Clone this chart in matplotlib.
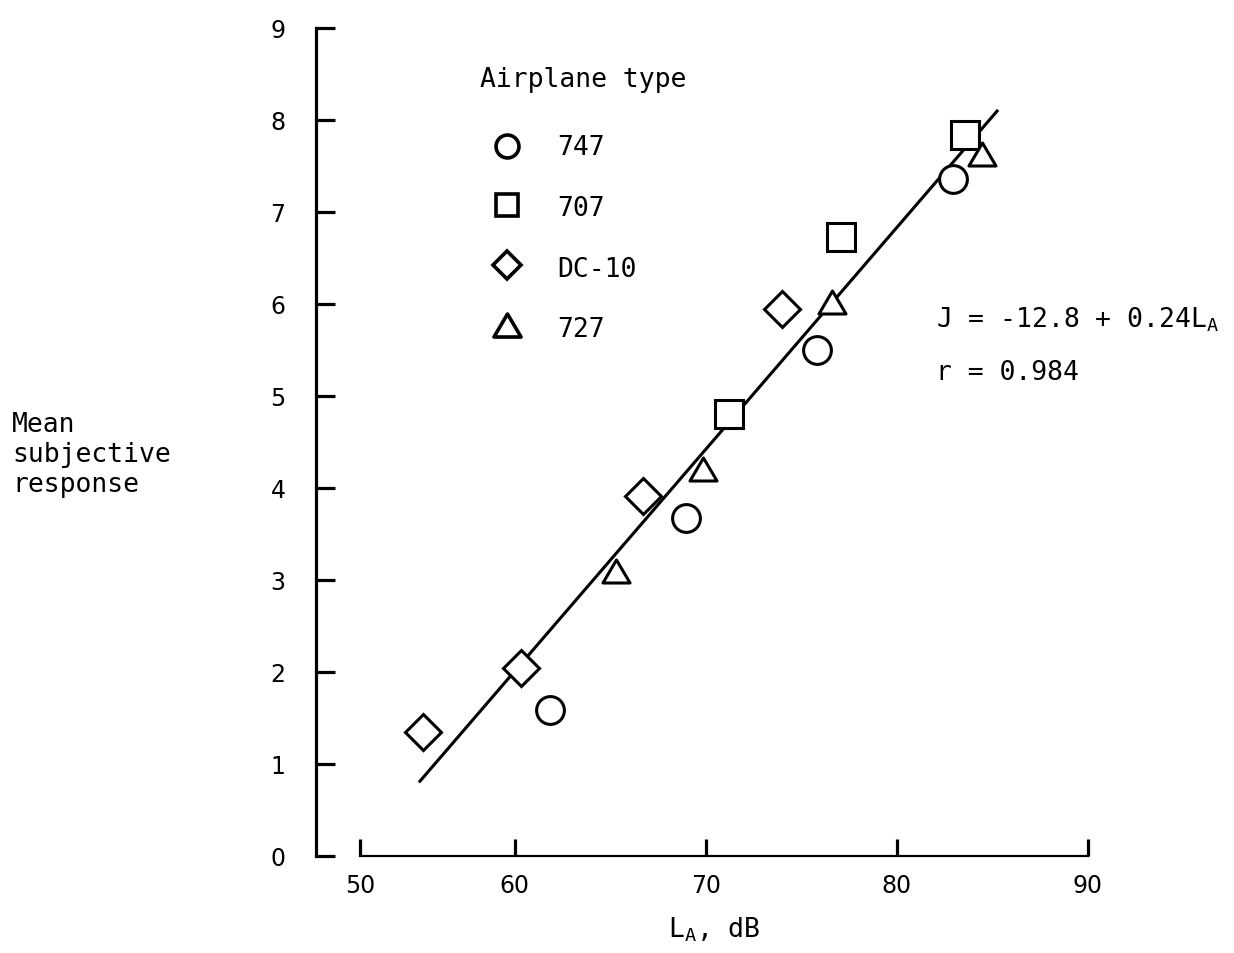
import numpy as np
import matplotlib
matplotlib.use("Agg")
import matplotlib.pyplot as plt
from matplotlib.path import Path
from matplotlib.lines import Line2D

# ---------------- data ----------------
x_747 = [61.83, 68.99, 75.84, 82.95]
y_747 = [1.59, 3.67, 5.50, 7.36]
x_707 = [71.24, 77.09, 83.58]
y_707 = [4.80, 6.73, 7.84]
x_dc10 = [54.06, 60.31, 66.74, 74.01]
y_dc10 = [1.35, 2.04, 3.91, 5.95]
x_727 = [65.28, 69.88, 76.62, 84.46]
y_727 = [3.10, 4.21, 6.02, 7.63]
fit_x = [53.81, 85.30]
fit_y = [0.80, 8.11]
x_ticks = [50, 60, 70, 80, 90]
y_ticks = [0, 1, 2, 3, 4, 5, 6, 7, 8, 9]
legend_labels = ["747", "707", "DC-10", "727"]
legend_title = "Airplane type"
equation = "J = -12.8 + 0.24L$_A$"
corr = "r = 0.984"
# --------------------------------------

plt.rcParams["mathtext.default"] = "regular"
MONO = "DejaVu Sans Mono"
FS = 19

W, H = 1234, 954
fig = plt.figure(figsize=(W / 100, H / 100), dpi=100)
ax = fig.add_axes([316 / W, (H - 857) / H, 791 / W, 828 / H])

# axis drawn with the 50-60 interval shorter than the others (as in the original)
K = 0.81
def fwd(x):
    x = np.asarray(x, dtype=float)
    return np.where(x < 60, 60 - (60 - x) * K, x)
def inv(u):
    u = np.asarray(u, dtype=float)
    return np.where(u < 60, 60 - (60 - u) / K, u)

ax.set_xscale("function", functions=(fwd, inv))
ax.set_xlim(47.16, 91)
ax.set_ylim(0, 9)

tri = Path([(0, 0.85), (-1, -0.85), (1, -0.85), (0, 0.85)],
           [Path.MOVETO, Path.LINETO, Path.LINETO, Path.CLOSEPOLY])

ax.plot(fit_x, fit_y, color="black", lw=2.2, zorder=2, solid_capstyle="butt")

common = dict(ls="none", mfc="white", mec="black", mew=2.2, zorder=3, clip_on=False)
ax.plot(x_747, y_747, marker="o", ms=20, **common)
ax.plot(x_707, y_707, marker="s", ms=19.5, **common)
ax.plot(x_dc10, y_dc10, marker="D", ms=18.5, **common)
ax.plot(x_727, y_727, marker=tri, ms=19.5, **common)

# spines and ticks
for s in ("top", "right"):
    ax.spines[s].set_visible(False)
ax.spines["left"].set_linewidth(2.3)
ax.spines["left"].set_bounds(0, 9)
ax.spines["bottom"].set_linewidth(1.6)
ax.spines["bottom"].set_bounds(50, 90)

ax.set_xticks(x_ticks)
ax.set_xticklabels([str(t) for t in x_ticks])
ax.xaxis.set_minor_locator(matplotlib.ticker.NullLocator())
ax.set_yticks(y_ticks)
ax.set_yticklabels([str(t) for t in y_ticks])
ax.tick_params(axis="y", direction="in", length=14, width=2.3, pad=22,
               labelsize=17)
ax.tick_params(axis="x", direction="in", length=12, width=2.3, pad=12,
               labelsize=17)

def fx(px):
    return px / W
def fy(py):
    return 1 - py / H

# legend (hand placed)
fig.text(fx(480), fy(87), legend_title, family=MONO, fontsize=FS, va="baseline")
leg_markers = ["o", "s", "D", tri]
leg_ms = [16.5, 15.5, 14.5, 19.5]
leg_my = [147, 206, 266, 326]
leg_ty = [155, 216, 277, 337]
for lab, mk, ms, my, ty in zip(legend_labels, leg_markers, leg_ms, leg_my, leg_ty):
    fig.add_artist(Line2D([fx(507)], [fy(my)], transform=fig.transFigure,
                          marker=mk, ms=ms, mfc="white", mec="black", mew=2.6,
                          ls="none"))
    fig.text(fx(557), fy(ty), lab, family=MONO, fontsize=FS, va="baseline")

# equation
fig.text(fx(936), fy(327), equation, family=MONO, fontsize=FS, va="baseline")
fig.text(fx(936), fy(380), corr, family=MONO, fontsize=FS, va="baseline")

# axis labels
fig.text(fx(12), fy(455), "Mean\nsubjective\nresponse", family=MONO,
         fontsize=FS, va="center", ha="left", multialignment="left")
fig.text(fx(668), fy(938), "L$_A$, dB", family=MONO, fontsize=FS, va="baseline")

fig.savefig("out.png", dpi=100, facecolor="white")
